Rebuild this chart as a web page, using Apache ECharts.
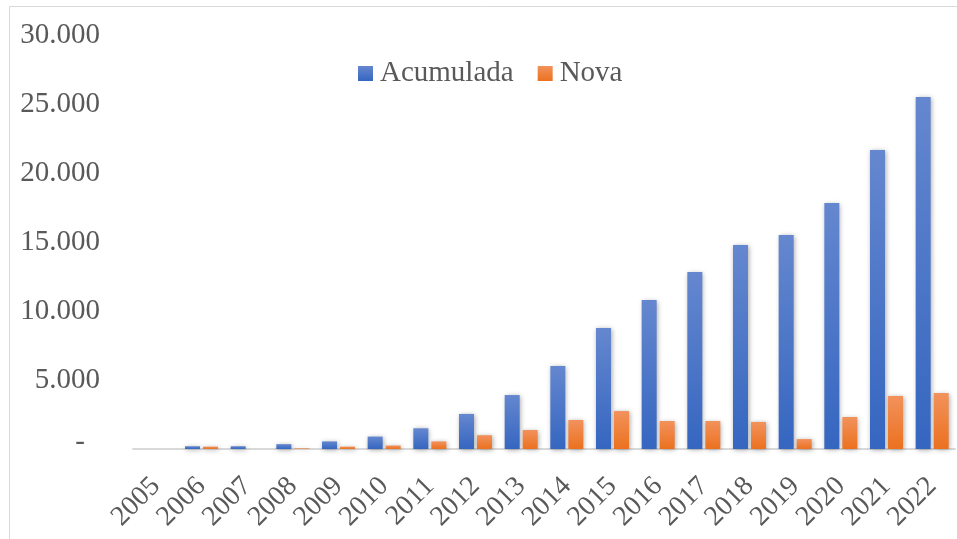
<!DOCTYPE html>
<html>
<head>
<meta charset="utf-8">
<script src="https://cdn.jsdelivr.net/npm/echarts@6/dist/echarts.min.js"></script>
<style>html,body{margin:0;padding:0;background:#fff;}#c{width:957px;height:539px;}</style>
</head>
<body>
<div id="c"></div>
<script>
const categories = ['2005','2006','2007','2008','2009','2010','2011','2012','2013','2014','2015','2016','2017','2018','2019','2020','2021','2022'];
const acumulada = [0, 200, 200, 350, 550, 900, 1500, 2540, 3910, 6010, 8770, 10800, 12830, 14780, 15500, 17830, 21670, 25500];
const nova = [0, 170, 0, 50, 170, 250, 550, 1000, 1380, 2100, 2750, 2030, 2030, 1960, 720, 2320, 3840, 4060];
const seriesNames = ['Acumulada', 'Nova'];

const chart = echarts.init(document.getElementById('c'));
const font = '"Liberation Serif", "Times New Roman", serif';
const grad = (top, bottom) => new echarts.graphic.LinearGradient(0, 0, 0, 1, [{offset: 0, color: top}, {offset: 1, color: bottom}]);
const shadow = {shadowBlur: 5, shadowColor: 'rgba(0,0,0,0.35)', shadowOffsetX: 1, shadowOffsetY: 1};
chart.setOption({
  animation: false,
  textStyle: {fontFamily: font},
  graphic: [{type: 'rect', shape: {x: 9.5, y: 6.5, width: 1000, height: 600}, style: {fill: 'none', stroke: '#d9d9d9', lineWidth: 1}}],
  legend: {
    top: 54, left: 353, icon: 'rect', itemWidth: 15, itemHeight: 15, itemGap: 24,
    textStyle: {fontFamily: font, fontSize: 29, color: '#595959', padding: [0, 0, 0, 2]},
    data: seriesNames
  },
  grid: {left: 133, right: 2, top: 35, bottom: 90, containLabel: false},
  xAxis: {
    type: 'category', data: categories,
    axisLine: {lineStyle: {color: '#d9d9d9', width: 2}},
    axisTick: {show: false},
    axisLabel: {rotate: 45, interval: 0, margin: 33, fontFamily: font, fontSize: 28, color: '#595959'}
  },
  yAxis: {
    type: 'value', min: 0, max: 30000, interval: 5000,
    splitLine: {show: false}, axisLine: {show: false}, axisTick: {show: false},
    axisLabel: {
      margin: 33, fontFamily: font, fontSize: 29, color: '#595959',
      formatter: v => v === 0 ? '{z|-}' : v.toLocaleString('de-DE'),
      rich: {z: {fontFamily: font, fontSize: 29, color: '#595959', padding: [0, 15, 14, 0]}}
    }
  },
  series: [
    {name: seriesNames[0], type: 'bar', data: acumulada, barWidth: 15, barGap: '20%',
     itemStyle: Object.assign({color: grad('#6587cf', '#3566c0')}, shadow)},
    {name: seriesNames[1], type: 'bar', data: nova, barWidth: 15,
     itemStyle: Object.assign({color: grad('#f2925c', '#eb711f')}, shadow)}
  ]
});
</script>
</body>
</html>
